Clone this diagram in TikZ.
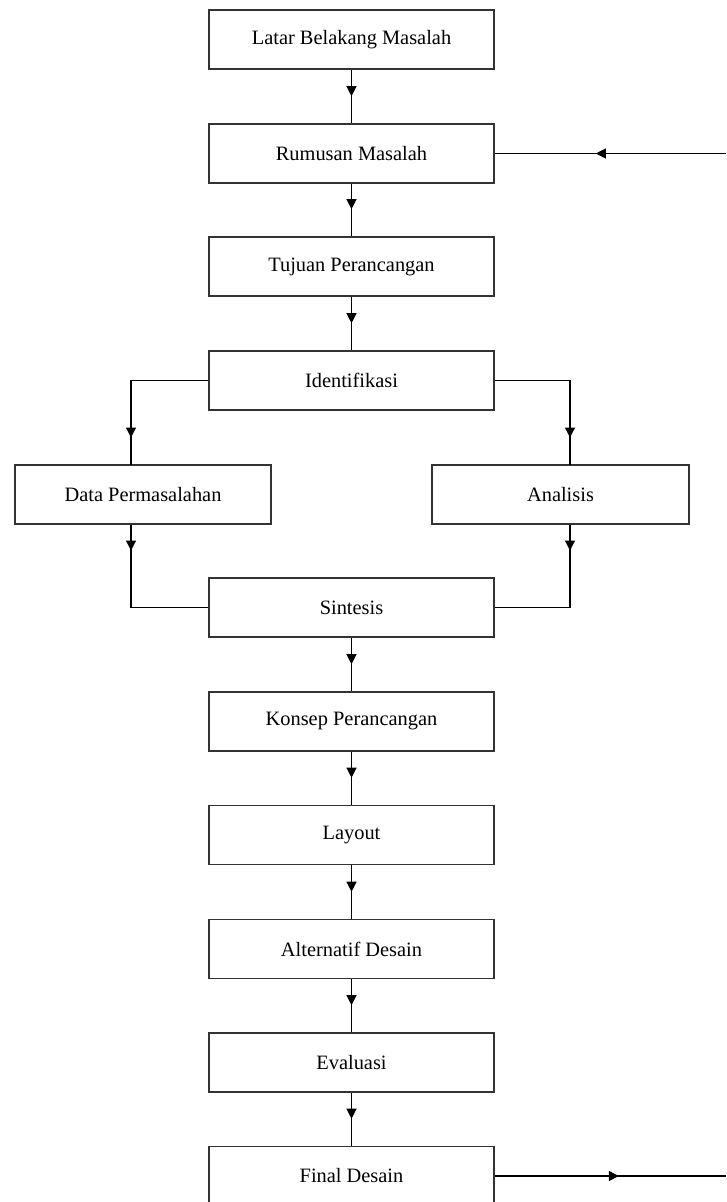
\documentclass[tikz,border=0pt]{standalone}
\usepackage{fontspec}
\setmainfont{Liberation Serif}
\usetikzlibrary{arrows.meta,decorations.markings}
\tikzset{
  box/.style={draw=black!80, line width=1.6pt, minimum height=59pt, inner sep=0pt, font=\fontsize{20.4}{24}\selectfont},
  mainbox/.style={box, minimum width=285pt},
  sidebox/.style={box, minimum width=256pt},
  conn/.style={draw=black, line width=1.2pt},
  arrat/.style={postaction={decorate}, decoration={markings, mark=at position #1 with {\arrow{Triangle[width=10pt,length=10pt]}}}}
}
\begin{document}
\begin{tikzpicture}[x=1pt,y=-1pt]
\useasboundingbox (0,0) rectangle (726,1202);
\node[mainbox] (latar) at (351.5,39.5) {Latar Belakang Masalah};
\node[mainbox] (rumus) at (351.5,153.5) {Rumusan Masalah};
\node[mainbox] (tujuan) at (351.5,266.5) {Tujuan Perancangan};
\node[mainbox] (ident) at (351.5,380.5) {Identifikasi};
\node[sidebox] (data) at (143,494.5) {Data Permasalahan};
\node[sidebox, minimum width=257pt] (anal) at (560.5,494.5) {Analisis};
\node[mainbox] (sint) at (351.5,607.5) {Sintesis};
\node[mainbox] (konsep) at (351.5,721.5) {Konsep Perancangan};
\node[mainbox] (layout) at (351.5,835) {Layout};
\node[mainbox] (alt) at (351.5,949) {Alternatif Desain};
\node[mainbox] (eval) at (351.5,1062.5) {Evaluasi};
\node[mainbox] (final) at (351.5,1176) {Final Desain};
\coordinate (inR) at (726,153.5);
\coordinate (outR) at (726,1176);
\coordinate (dataTop) at (131,464.5);
\coordinate (dataBot) at (131,524.5);
\coordinate (analTop) at (570,464.5);
\coordinate (analBot) at (570,524.5);

\draw[conn, arrat=-27pt] (latar) -- (rumus);
\draw[conn, arrat=-27pt] (rumus) -- (tujuan);
\draw[conn, arrat=-27pt] (tujuan) -- (ident);
\draw[conn, arrat=-27pt] (ident.west) -| (dataTop);
\draw[conn, arrat=-27pt] (ident.east) -| (analTop);
\draw[conn, arrat=26pt] (dataBot) |- (sint.west);
\draw[conn, arrat=26pt] (analBot) |- (sint.east);
\draw[conn, arrat=-27pt] (sint) -- (konsep);
\draw[conn, arrat=-27pt] (konsep) -- (layout);
\draw[conn, arrat=-27pt] (layout) -- (alt);
\draw[conn, arrat=-27pt] (alt) -- (eval);
\draw[conn, arrat=-27pt] (eval) -- (final);
\draw[conn, arrat=-101pt] (inR) -- (rumus.east);
\draw[conn, arrat=124pt] (final.east) -- (outR);
\end{tikzpicture}
\end{document}
